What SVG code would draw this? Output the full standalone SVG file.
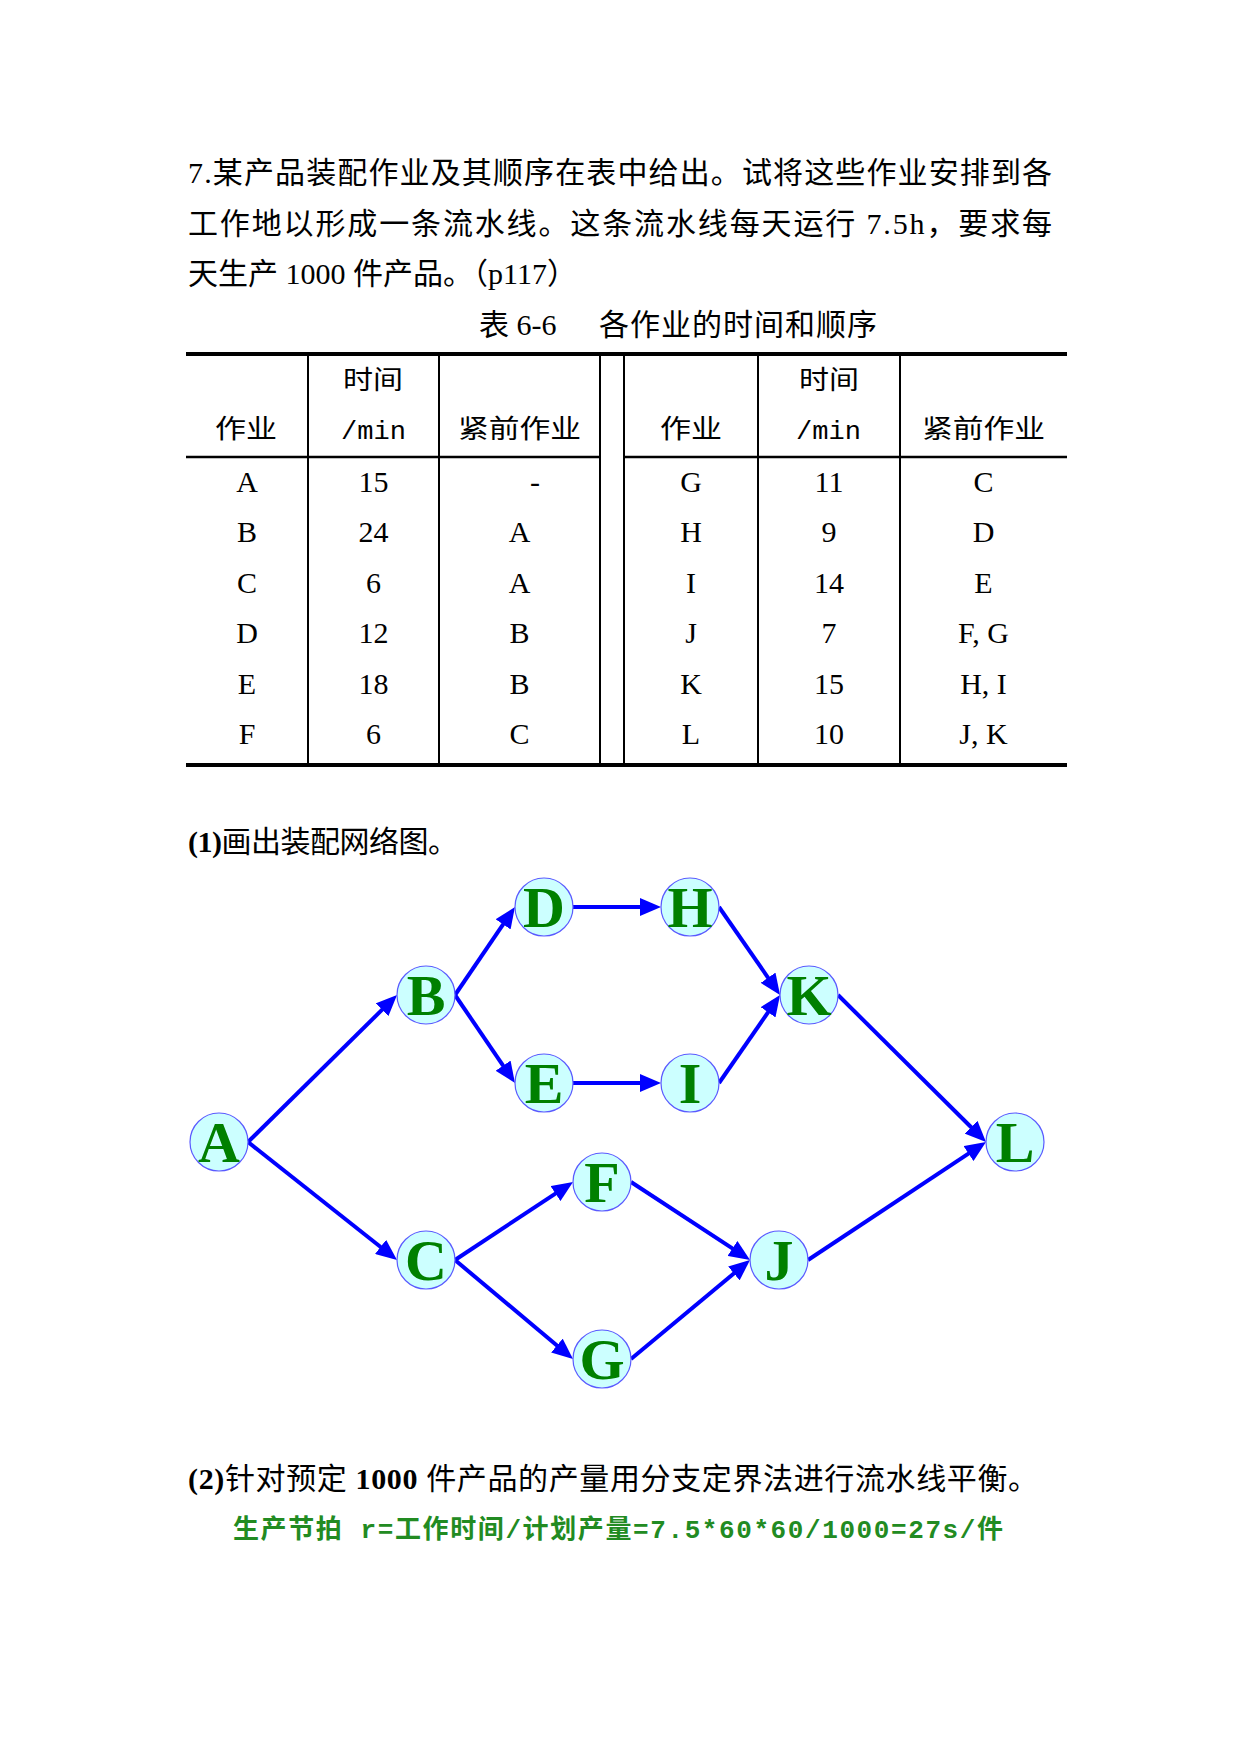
<svg xmlns="http://www.w3.org/2000/svg" width="1241" height="1754" viewBox="0 0 1241 1754">
<style>
.body{font-family:'Liberation Serif','Noto Sans CJK SC',serif;font-size:30px;fill:#000}
.th{font-family:'Noto Sans CJK SC',sans-serif;font-size:26px;fill:#000}
.tm{font-family:'Liberation Mono','Noto Sans CJK SC',monospace;font-size:26px;fill:#000}
.td{font-family:'Liberation Serif','Noto Sans CJK SC',serif;font-size:30px;text-anchor:middle;fill:#000}
.bold{font-family:'Liberation Serif',serif;font-weight:bold}
.green{font-family:'Liberation Mono','Noto Sans CJK SC',monospace;font-size:26px;font-weight:bold;fill:#228B22}
.rule{stroke:#000;fill:none}
.nd circle{fill:#ccffff;stroke:#5a5aff;stroke-width:1.2}
.nd text{font-family:'Liberation Serif',serif;font-weight:bold;font-size:58px;fill:#008000;text-anchor:middle}
.edge{stroke:#0000ff;stroke-width:4;fill:none;marker-end:url(#ah)}
</style>
<defs>
<marker id="ah" markerUnits="userSpaceOnUse" markerWidth="21" markerHeight="18" refX="9" refY="9" orient="auto" viewBox="0 0 21 18"><path d="M0,0 L21,9 L0,18 z" fill="#0000ff"/></marker>
</defs>
<rect x="0" y="0" width="1241" height="1754" fill="#fff"/>

<g id="problem-text">
<text class="body" x="188" y="183" textLength="864" lengthAdjust="spacing">7.某产品装配作业及其顺序在表中给出。试将这些作业安排到各</text>
<text class="body" x="188" y="234" textLength="864" lengthAdjust="spacing">工作地以形成一条流水线。这条流水线每天运行 7.5h，要求每</text>
<text class="body" x="188" y="284">天生产 1000 件产品。（p117）</text>
<text class="body" x="479" y="335">表 6-6</text>
<text class="body" x="599" y="335" textLength="278" lengthAdjust="spacing">各作业的时间和顺序</text>
</g>

<g id="table">
<line class="rule" x1="186" y1="354" x2="1067" y2="354" stroke-width="4"/>
<line class="rule" x1="186" y1="765" x2="1067" y2="765" stroke-width="4"/>
<line class="rule" x1="186" y1="457" x2="600" y2="457" stroke-width="2.5"/>
<line class="rule" x1="624" y1="457" x2="1067" y2="457" stroke-width="2.5"/>
<line class="rule" x1="308" y1="354" x2="308" y2="765" stroke-width="2"/>
<line class="rule" x1="439" y1="354" x2="439" y2="765" stroke-width="2"/>
<line class="rule" x1="600" y1="354" x2="600" y2="765" stroke-width="2"/>
<line class="rule" x1="624" y1="354" x2="624" y2="765" stroke-width="2"/>
<line class="rule" x1="758" y1="354" x2="758" y2="765" stroke-width="2"/>
<line class="rule" x1="900" y1="354" x2="900" y2="765" stroke-width="2"/>

<text class="th" x="215" y="438" textLength="62" lengthAdjust="spacingAndGlyphs">作业</text>
<text class="th" x="343" y="389" textLength="60" lengthAdjust="spacingAndGlyphs">时间</text>
<text class="tm" x="341" y="439" textLength="65" lengthAdjust="spacingAndGlyphs">/min</text>
<text class="th" x="458" y="438" textLength="123" lengthAdjust="spacingAndGlyphs">紧前作业</text>
<text class="th" x="660" y="438" textLength="62" lengthAdjust="spacingAndGlyphs">作业</text>
<text class="th" x="799" y="389" textLength="60" lengthAdjust="spacingAndGlyphs">时间</text>
<text class="tm" x="796" y="439" textLength="65" lengthAdjust="spacingAndGlyphs">/min</text>
<text class="th" x="922" y="438" textLength="123" lengthAdjust="spacingAndGlyphs">紧前作业</text>

<text class="td" x="247" y="491.5">A</text><text class="td" x="373.5" y="491.5">15</text><text class="td" x="535" y="491.5">-</text>
<text class="td" x="247" y="542">B</text><text class="td" x="373.5" y="542">24</text><text class="td" x="519.5" y="542">A</text>
<text class="td" x="247" y="592.5">C</text><text class="td" x="373.5" y="592.5">6</text><text class="td" x="519.5" y="592.5">A</text>
<text class="td" x="247" y="643">D</text><text class="td" x="373.5" y="643">12</text><text class="td" x="519.5" y="643">B</text>
<text class="td" x="247" y="693.5">E</text><text class="td" x="373.5" y="693.5">18</text><text class="td" x="519.5" y="693.5">B</text>
<text class="td" x="247" y="744">F</text><text class="td" x="373.5" y="744">6</text><text class="td" x="519.5" y="744">C</text>

<text class="td" x="691" y="491.5">G</text><text class="td" x="829" y="491.5">11</text><text class="td" x="983.5" y="491.5">C</text>
<text class="td" x="691" y="542">H</text><text class="td" x="829" y="542">9</text><text class="td" x="983.5" y="542">D</text>
<text class="td" x="691" y="592.5">I</text><text class="td" x="829" y="592.5">14</text><text class="td" x="983.5" y="592.5">E</text>
<text class="td" x="691" y="643">J</text><text class="td" x="829" y="643">7</text><text class="td" x="983.5" y="643">F, G</text>
<text class="td" x="691" y="693.5">K</text><text class="td" x="829" y="693.5">15</text><text class="td" x="983.5" y="693.5">H, I</text>
<text class="td" x="691" y="744">L</text><text class="td" x="829" y="744">10</text><text class="td" x="983.5" y="744">J, K</text>
</g>

<text class="body" x="188" y="852" font-size="31" textLength="270" lengthAdjust="spacing"><tspan class="bold">(1)</tspan>画出装配网络图。</text>

<g id="connectors">
<line class="edge" x1="248" y1="1142" x2="388.5" y2="1003.4"/>
<line class="edge" x1="248" y1="1142" x2="387.6" y2="1252.5"/>
<line class="edge" x1="455" y1="995" x2="508.2" y2="916.9"/>
<line class="edge" x1="455" y1="995" x2="508.2" y2="1073.1"/>
<line class="edge" x1="573" y1="907" x2="649" y2="907"/>
<line class="edge" x1="573" y1="1083" x2="649" y2="1083"/>
<line class="edge" x1="719" y1="907" x2="773.2" y2="985.1"/>
<line class="edge" x1="719" y1="1083" x2="773.2" y2="1004.9"/>
<line class="edge" x1="838" y1="995" x2="977.5" y2="1133.5"/>
<line class="edge" x1="455" y1="1260" x2="563" y2="1188.6"/>
<line class="edge" x1="455" y1="1260" x2="563.8" y2="1351.3"/>
<line class="edge" x1="631" y1="1182" x2="740" y2="1253.4"/>
<line class="edge" x1="631" y1="1359" x2="740.8" y2="1267.7"/>
<line class="edge" x1="808" y1="1260" x2="976" y2="1148.6"/>
</g>

<g id="node-A" class="nd"><circle cx="219" cy="1142" r="29"/><text x="219" y="1162">A</text></g>
<g id="node-B" class="nd"><circle cx="426" cy="995" r="29"/><text x="426" y="1015">B</text></g>
<g id="node-C" class="nd"><circle cx="426" cy="1260" r="29"/><text x="426" y="1280">C</text></g>
<g id="node-D" class="nd"><circle cx="544" cy="907" r="29"/><text x="544" y="927">D</text></g>
<g id="node-E" class="nd"><circle cx="544" cy="1083" r="29"/><text x="544" y="1103">E</text></g>
<g id="node-H" class="nd"><circle cx="690" cy="907" r="29"/><text x="690" y="927">H</text></g>
<g id="node-I" class="nd"><circle cx="690" cy="1083" r="29"/><text x="690" y="1103">I</text></g>
<g id="node-K" class="nd"><circle cx="809" cy="995" r="29"/><text x="809" y="1015">K</text></g>
<g id="node-L" class="nd"><circle cx="1015" cy="1142" r="29"/><text x="1015" y="1162">L</text></g>
<g id="node-F" class="nd"><circle cx="602" cy="1182" r="29"/><text x="602" y="1202">F</text></g>
<g id="node-G" class="nd"><circle cx="602" cy="1359" r="29"/><text x="602" y="1379">G</text></g>
<g id="node-J" class="nd"><circle cx="779" cy="1260" r="29"/><text x="779" y="1280">J</text></g>

<text class="body" x="188" y="1489" font-size="31" textLength="850" lengthAdjust="spacing"><tspan class="bold">(2)</tspan>针对预定 <tspan class="bold">1000</tspan> 件产品的产量用分支定界法进行流水线平衡。</text>
<text class="green" x="233" y="1538" textLength="770" lengthAdjust="spacing">生产节拍 r=工作时间/计划产量=7.5*60*60/1000=27s/件</text>
</svg>
